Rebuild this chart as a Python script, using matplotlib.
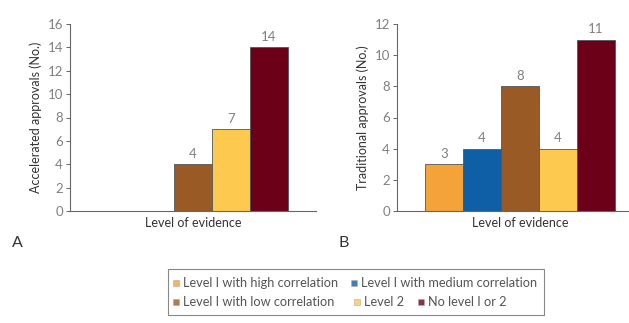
import matplotlib
matplotlib.use("Agg", force=True)

import matplotlib.pyplot as plt
from matplotlib.patches import Rectangle

plt.rcParams['font.family'] = ['Lato', 'DejaVu Sans']

# evidence categories, in bar order
categories = ['Level 1 with high correlation', 'Level 1 with medium correlation',
              'Level 1 with low correlation', 'Level 2', 'No level 1 or 2']
legend_labels = ['Level I with high correlation', 'Level I with medium correlation',
                 'Level I with low correlation', 'Level 2', 'No level I or 2']
colors = ['#F4A23A', '#0F5FA6', '#9A5A26', '#FDC94F', '#6C0019']

accelerated = [0, 0, 4, 7, 14]
traditional = [3, 4, 8, 4, 11]

acc_labels = ['', '', '4', '7', '14']
trad_labels = ['3', '4', '8', '4', '11']

W, H = 629, 323
fig = plt.figure(figsize=(W / 100, H / 100), dpi=100)

tick_col = '#808080'
text_col = '#333333'


def panel(rect, values, labels, ymax, ylabel, letter, letter_x):
    ax = fig.add_axes(rect)
    x = list(range(len(values)))
    ax.bar(x, values, width=1.0, color=colors, edgecolor='#555555', linewidth=0.6)
    for xi, v, lab in zip(x, values, labels):
        if lab:
            ax.text(xi, v + ymax * 0.025, lab, ha='center', va='bottom',
                    fontsize=9.5, color=tick_col)
    ax.set_xlim(-1.24, 5.24)
    ax.set_ylim(0, ymax)
    ax.set_yticks(range(0, ymax + 1, 2))
    ax.set_xticks([])
    for s in ('top', 'right'):
        ax.spines[s].set_visible(False)
    for s in ('left', 'bottom'):
        ax.spines[s].set_color('#666666')
        ax.spines[s].set_linewidth(0.8)
    ax.tick_params(axis='y', length=3, width=0.7, color='#666666',
                   labelsize=9.5, labelcolor=tick_col, pad=2)
    ax.set_xlabel('Level of evidence', fontsize=9, color=text_col, labelpad=4)
    ax.set_ylabel(ylabel, fontsize=9, color=text_col, labelpad=4)
    fig.text(letter_x, 1 - 243 / H, letter, fontsize=11.5, color=text_col,
             ha='left', va='center')
    return ax


panel([70 / W, 1 - 211 / H, 246 / W, 187 / H], accelerated, acc_labels, 16,
      'Accelerated approvals (No.)', 'A', 12 / W)
panel([397 / W, 1 - 211 / H, 246 / W, 187 / H], traditional, trad_labels, 12,
      'Traditional approvals (No.)', 'B', 338 / W)

# legend box with a flowing two-row layout
fig.patches.append(Rectangle((168 / W, 1 - 315 / H), 376 / W, 46 / H,
                             transform=fig.transFigure, facecolor='white',
                             edgecolor='#888888', linewidth=0.8))
entries = [(176, 283), (354, 283), (176, 302), (357, 302), (421, 302)]
for (px, py), lab, col in zip(entries, legend_labels, colors):
    fig.patches.append(Rectangle(((px - 3) / W, 1 - (py + 3) / H), 6 / W, 6 / H,
                                 transform=fig.transFigure, facecolor=col,
                                 edgecolor='#aaaaaa', linewidth=0.5, alpha=0.8))
    fig.text((px + 7) / W, 1 - py / H, lab, fontsize=9.2, color='#555555',
             ha='left', va='center')

fig.savefig('out.png', dpi=100)
